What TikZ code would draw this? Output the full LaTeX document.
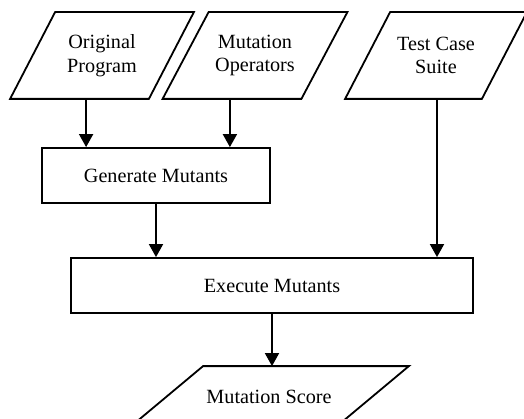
\documentclass[tikz,border=0pt]{standalone}
\usepackage{fontspec}
\setmainfont{Liberation Serif}
\usetikzlibrary{positioning,arrows.meta}

\begin{document}
\begin{tikzpicture}[x=1pt,y=-1pt,on grid,line width=1.8pt,
  -{Triangle[length=13pt,width=14pt]},
  io/.style ={rectangle,inner sep=0pt,align=center,
    minimum width=137pt,minimum height=85pt,
    font=\fontsize{20.2}{23.5}\selectfont},
  proc/.style ={rectangle,draw,inner sep=0pt,minimum height=55pt,
    font=\fontsize{20.2}{23.5}\selectfont}]
  \useasboundingbox (0,0) rectangle (524,419);
  \clip (0,0) rectangle (524,419);
  \node[io](orig) at (102,55.5){Original\\Program};
  \node[io](mutop)[right = 153pt of orig]{Mutation\\Operators};
  \node[io,minimum width=135pt](suite)[right = 334pt of orig]{Test Case\\Suite};
  \node[proc,minimum width=228pt](gen)[below right = 120pt and 54pt of orig]{Generate Mutants};
  \node[proc,minimum width=402pt](exec)[below right = 110pt and 116pt of gen]{Execute Mutants};
  \node[io,minimum width=204pt,minimum height=60pt](score)[below left = 111.5pt and 3pt of exec]{Mutation Score};
  % slanted outlines of the data boxes
  \foreach \n/\s in {orig/22.5,mutop/23,suite/22.5,score/37}
    \draw[-] ([xshift=\s pt]\n.north west) -- ([xshift=\s pt]\n.north east)
      -- ([xshift=-\s pt]\n.south east) -- ([xshift=-\s pt]\n.south west) -- cycle;
  % inputs into the generator
  \coordinate (in1) at ([xshift=45pt]gen.north west);
  \coordinate (in2) at ([xshift=-41pt]gen.north east);
  \draw (orig.south -| in1) -- (in1);
  \draw (mutop.south -| in2) -- (in2);
  \draw (gen.south) -- (gen.south |- exec.north);
  \draw ([xshift=1pt]suite.south) -- ([xshift=1pt]suite.south |- exec.north);
  \draw (exec.south) -- (exec.south |- score.north);
\end{tikzpicture}
\end{document}
